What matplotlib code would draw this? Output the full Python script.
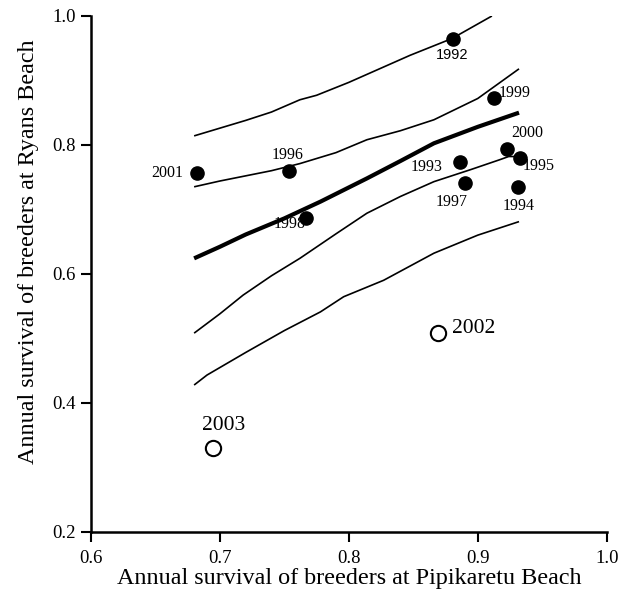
import matplotlib
matplotlib.use("Agg")
import matplotlib.pyplot as plt

# Data points (filled = 1992-2001, open = 2002-2003)
years_filled = ["1992", "1993", "1994", "1995", "1996", "1997", "1998", "1999", "2000", "2001"]
x_filled = [0.8806, 0.8863, 0.9313, 0.9326, 0.7539, 0.8904, 0.7668, 0.9129, 0.9227, 0.6825]
y_filled = [0.965, 0.7735, 0.734, 0.779, 0.7595, 0.7404, 0.686, 0.872, 0.7936, 0.757]

years_open = ["2002", "2003"]
x_open = [0.8694, 0.6949]
y_open = [0.5086, 0.330]

# Label positions (data coords)
lab_x_filled = [0.8803, 0.8604, 0.9320, 0.9470, 0.7523, 0.8798, 0.7544, 0.9289, 0.9380, 0.6588]
lab_y_filled = [0.9395, 0.7662, 0.7052, 0.7677, 0.7844, 0.7119, 0.6773, 0.8810, 0.8189, 0.7559]
lab_x_open = [0.8966, 0.7026]
lab_y_open = [0.5154, 0.3643]

# Curves
c1_x = [0.680, 0.700, 0.720, 0.740, 0.762, 0.775, 0.800, 0.8475, 0.880, 0.911]
c1_y = [0.814, 0.826, 0.838, 0.851, 0.870, 0.877, 0.897, 0.939, 0.965, 1.000]
c2_x = [0.680, 0.700, 0.720, 0.740, 0.762, 0.790, 0.814, 0.840, 0.866, 0.900, 0.932]
c2_y = [0.735, 0.744, 0.752, 0.760, 0.771, 0.788, 0.808, 0.822, 0.839, 0.872, 0.918]
c3_x = [0.680, 0.700, 0.720, 0.750, 0.778, 0.814, 0.840, 0.866, 0.900, 0.932]
c3_y = [0.624, 0.642, 0.661, 0.686, 0.712, 0.748, 0.775, 0.8025, 0.828, 0.850]
c4_x = [0.680, 0.700, 0.718, 0.740, 0.762, 0.790, 0.814, 0.840, 0.866, 0.895, 0.917, 0.924, 0.932]
c4_y = [0.508, 0.538, 0.567, 0.597, 0.624, 0.662, 0.694, 0.720, 0.743, 0.762, 0.777, 0.782, 0.782]
c5_x = [0.680, 0.690, 0.720, 0.750, 0.778, 0.796, 0.827, 0.866, 0.900, 0.932]
c5_y = [0.4275, 0.443, 0.478, 0.512, 0.541, 0.5645, 0.590, 0.632, 0.660, 0.681]

plt.rcParams['font.family'] = ['Liberation Serif', 'DejaVu Serif']

fig = plt.figure(figsize=(6.27, 5.94), dpi=100)
ax = fig.add_axes([0.1451, 0.1049, 0.8225, 0.8682])

for cx, cy, lw in [(c1_x, c1_y, 1.2), (c2_x, c2_y, 1.2), (c3_x, c3_y, 3.0),
                   (c4_x, c4_y, 1.2), (c5_x, c5_y, 1.2)]:
    ax.plot(cx, cy, color='black', lw=lw, solid_capstyle='butt', zorder=2)

ax.plot(x_filled, y_filled, 'o', color='black', markersize=9.5, zorder=3)
ax.plot(x_open, y_open, 'o', markerfacecolor='white', markeredgecolor='black',
        markeredgewidth=1.5, markersize=11, zorder=3)

for t, lx, ly in zip(years_filled, lab_x_filled, lab_y_filled):
    fam = ['Liberation Sans'] if t == "1992" else ['Liberation Serif']
    fs = 10.5 if t == "1992" else 11.5
    ax.text(lx, ly, t, ha='center', va='center', fontsize=fs, family=fam)
for t, lx, ly in zip(years_open, lab_x_open, lab_y_open):
    ax.text(lx, ly, t, ha='center', va='center', fontsize=15.5)

ax.set_xlim(0.6, 1.0)
ax.set_ylim(0.2, 1.0)
ax.set_xticks([0.6, 0.7, 0.8, 0.9, 1.0])
ax.set_yticks([0.2, 0.4, 0.6, 0.8, 1.0])
ax.set_xticklabels(["0.6", "0.7", "0.8", "0.9", "1.0"])
ax.set_yticklabels(["0.2", "0.4", "0.6", "0.8", "1.0"])
ax.tick_params(direction='out', length=7, width=1.5, labelsize=13.5)
ax.tick_params(axis='x', pad=6)
ax.tick_params(axis='y', pad=4)
for s in ['top', 'right']:
    ax.spines[s].set_visible(False)
for s in ['left', 'bottom']:
    ax.spines[s].set_linewidth(1.8)

ax.set_xlabel("Annual survival of breeders at Pipikaretu Beach", fontsize=17.4, labelpad=1)
ax.set_ylabel("Annual survival of breeders at Ryans Beach", fontsize=17.4)
ax.yaxis.set_label_coords(-0.101, 0.543)

fig.savefig("out.png", dpi=100)
